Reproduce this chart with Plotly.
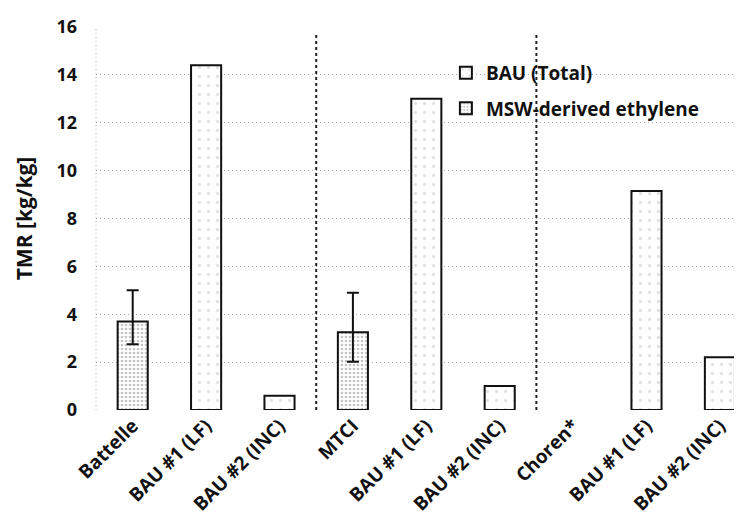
import plotly.graph_objects as go
import numpy as np

categories = ["Battelle", "BAU #1 (LF)", "BAU #2 (INC)",
              "MTCI", "BAU #1 (LF)", "BAU #2 (INC)",
              "Choren*", "BAU #1 (LF)", "BAU #2 (INC)"]
group_sizes = [3, 3, 3]
bau_total = [None, 14.4, 0.6, None, 13.0, 1.0, None, 9.15, 2.2]
msw_ethylene = [3.7, None, None, 3.25, None, None, None, None, None]
msw_err_plus = [1.3, 0, 0, 1.65, 0, 0, 0, 0, 0]
msw_err_minus = [0.95, 0, 0, 1.23, 0, 0, 0, 0, 0]
y_ticks = [0, 2, 4, 6, 8, 10, 12, 14, 16]

x = list(range(len(categories)))
FONT = "Open Sans"

fig = go.Figure()
fig.add_trace(go.Bar(
    x=x, y=bau_total, name="BAU (Total)", width=0.41,
    marker=dict(color="white", line=dict(color="#111", width=2),
                pattern=dict(shape=".", fgcolor="#c8c8c8", bgcolor="white",
                             size=9, solidity=0.12)),
    legendgroup="a",
))
fig.add_trace(go.Bar(
    x=x, y=msw_ethylene, name="MSW-derived ethylene", width=0.41,
    marker=dict(color="white", line=dict(color="#111", width=2),
                pattern=dict(shape=".", fgcolor="#8a8a8a", bgcolor="white",
                             size=4, solidity=0.35)),
    error_y=dict(type="data", symmetric=False, array=msw_err_plus,
                 arrayminus=msw_err_minus, color="#111", thickness=2, width=6),
    legendgroup="b",
))

bounds = np.cumsum(group_sizes)[:-1] - 0.5
shapes = []
for b in bounds:
    shapes.append(dict(type="line", xref="x", yref="paper", x0=b, x1=b, y0=0, y1=0.985,
                       line=dict(color="#222", width=2, dash="3px,3px")))
shapes.append(dict(type="line", xref="paper", yref="paper", x0=0, x1=0, y0=0, y1=1,
                   line=dict(color="#aaa", width=1, dash="1px,3px")))
fig.update_layout(shapes=shapes)

fig.update_layout(
    width=742, height=525,
    margin=dict(l=88, r=0, t=19, b=123),
    paper_bgcolor="white", plot_bgcolor="white",
    barmode="overlay",
    font=dict(family=FONT, color="#111"),
    showlegend=True,
    legend=dict(x=0.535, y=0.93, xanchor="left", yanchor="top",
                bgcolor="rgba(0,0,0,0)", traceorder="grouped", tracegroupgap=8,
                font=dict(family=FONT, size=19, color="#111", weight="bold")),
    xaxis=dict(tickmode="array", tickvals=x, ticktext=categories,
               range=[-0.5, 8.41], tickangle=-45, showgrid=False, zeroline=False,
               showline=False, ticks="",
               tickfont=dict(family=FONT, size=19, color="#111", weight="bold")),
    yaxis=dict(range=[0, 16], tickvals=y_ticks, showgrid=True, gridcolor="#a8a8a8",
               griddash="1px,3px", gridwidth=1, zeroline=False, showline=False, ticks="",
               ticklabelstandoff=18,
               tickfont=dict(family=FONT, size=18, color="#111", weight="bold")),
)
fig.update_yaxes(title=dict(text="TMR [kg/kg]", standoff=18,
                            font=dict(family=FONT, size=21, color="#111", weight="bold")))

fig.write_html("out.html")
